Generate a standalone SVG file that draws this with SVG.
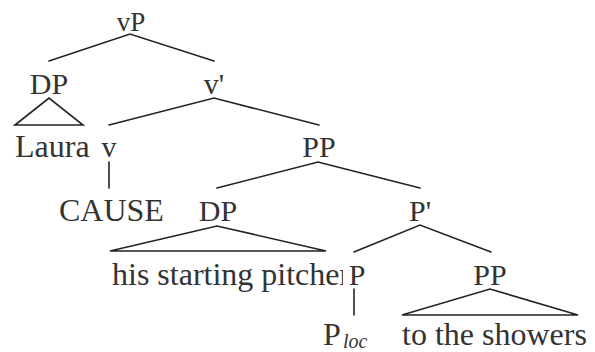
<svg xmlns="http://www.w3.org/2000/svg" width="595" height="352" viewBox="0 0 595 352">
  <style>
    text { font-family: "Liberation Serif", "Times New Roman", serif; font-size: 30px; fill: #333; text-anchor: middle; }
    .w { font-size: 32px; text-anchor: start; }
    .top { font-size: 27px; }
    .sub { font-size: 20px; font-style: italic; text-anchor: start; }
    .e { stroke: #222; stroke-width: 1.6; fill: none; stroke-linecap: round; stroke-linejoin: miter; }
  </style>
  <rect width="595" height="352" fill="#fff"/>

  <!-- branches -->
  <g id="connectors">
    <polyline class="e" points="49,61 130,34 214,61"/>
    <polygon class="e" points="15,125 49,98 83,125"/>
    <polyline class="e" points="109,125 214,98 319,125"/>
    <line class="e" x1="109" y1="162" x2="109" y2="188"/>
    <polyline class="e" points="217,188 318,162 420,188"/>
    <polyline class="e" points="354,252 420,225 491,252"/>
    <polygon class="e" points="110,251 217,226 326,251"/>
    <line class="e" x1="354" y1="289" x2="354" y2="315"/>
    <polygon class="e" points="402,315 490,289 578,315"/>
  </g>

  <g id="n-vP"><text class="top" x="131" y="31">vP</text></g>
  <g id="n-DP1"><text x="49" y="94">DP</text></g>
  <g id="n-vbar"><text x="214" y="94">v'</text></g>
  <g id="n-laura"><text class="w" x="15" y="157">Laura</text></g>
  <g id="n-v"><text x="109" y="157">v</text></g>
  <g id="n-PP1"><text x="319" y="157">PP</text></g>
  <g id="n-cause"><text class="w" x="59" y="221">CAUSE</text></g>
  <g id="n-DP2"><text x="218" y="221">DP</text></g>
  <g id="n-Pbar"><text x="420" y="221">P'</text></g>
  <g id="n-pitcher"><text class="w" x="112" y="285">his starting pitcher</text></g>
  <g id="n-P">
    <rect x="343" y="262" width="25" height="26" fill="#fff"/>
    <text x="357" y="285">P</text>
  </g>
  <g id="n-PP2"><text x="490" y="285">PP</text></g>
  <g id="n-Ploc"><text class="w" x="323" y="345">P</text><text class="sub" x="343" y="348">loc</text></g>
  <g id="n-showers"><text class="w" x="402" y="345">to the showers</text></g>
</svg>
